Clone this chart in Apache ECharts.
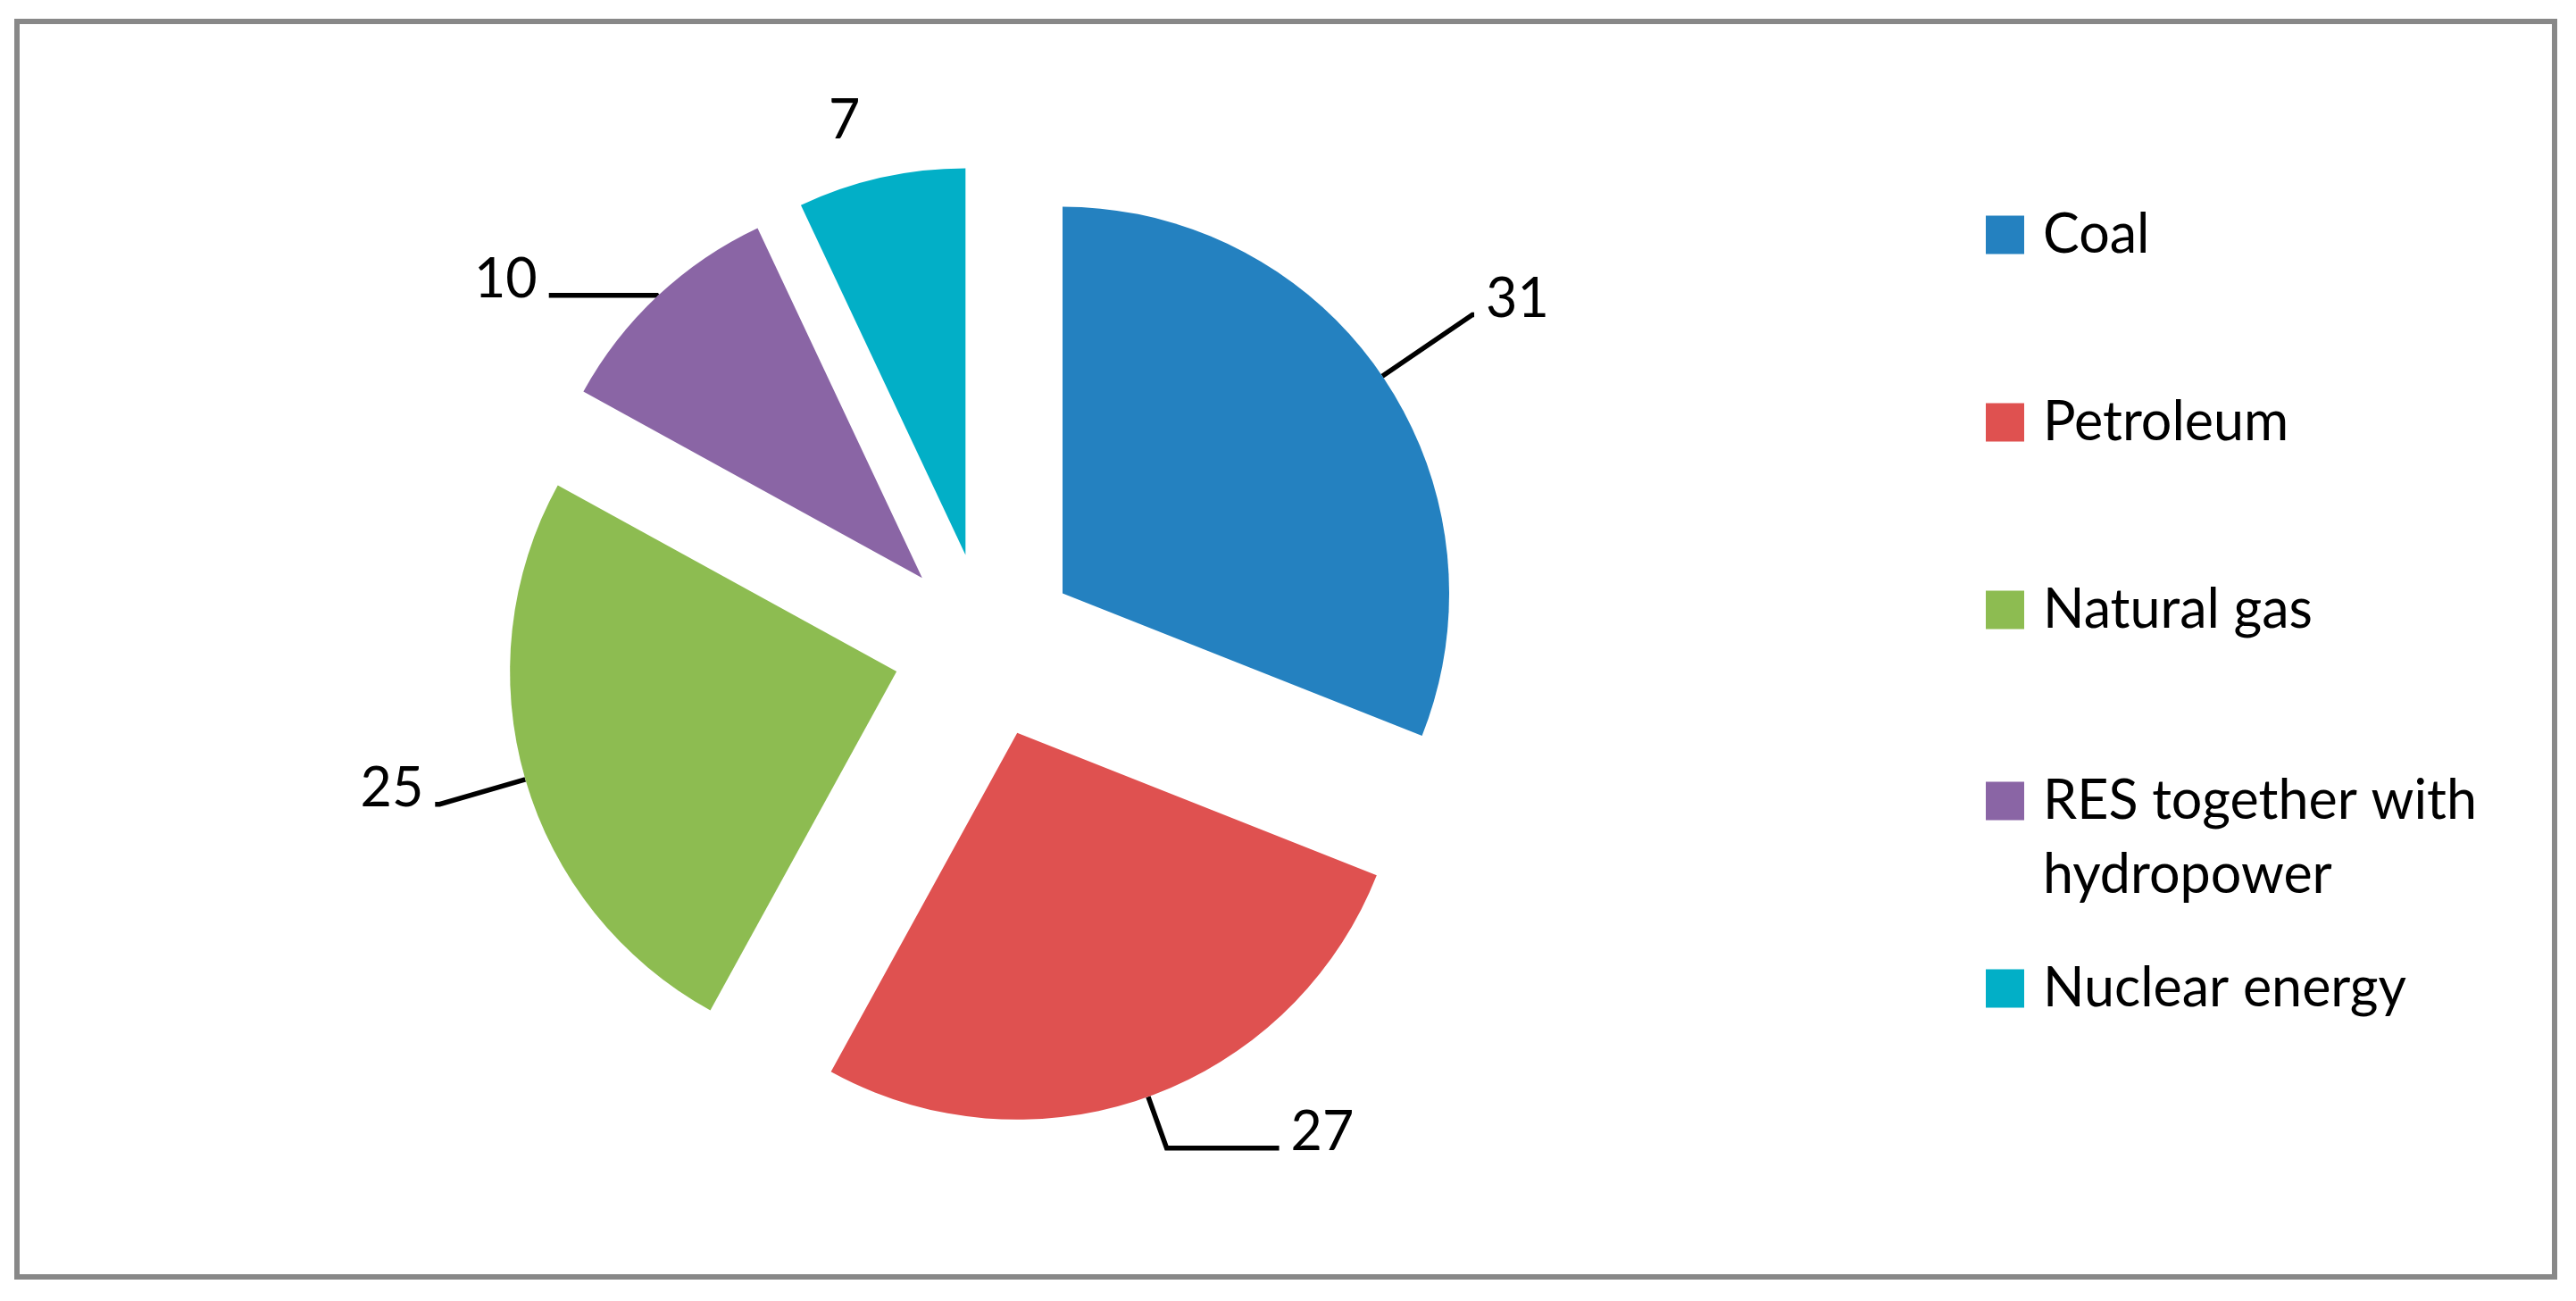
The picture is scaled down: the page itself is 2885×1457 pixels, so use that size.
<!DOCTYPE html>
<html>
<head>
<meta charset="utf-8">
<script src="https://cdn.jsdelivr.net/npm/echarts@6/dist/echarts.min.js"></script>
<style>
  html, body { margin: 0; padding: 0; background: #fff; }
  #chart { width: 2885px; height: 1457px; }
</style>
</head>
<body>
<div id="chart"></div>
<script>
// energy mix, %
const categories = ['Coal', 'Petroleum', 'Natural gas', 'RES together with hydropower', 'Nuclear energy'];
const shares = [31, 27, 25, 10, 7];
const legendLabels = ['Coal', 'Petroleum', 'Natural gas', 'RES together with\nhydropower', 'Nuclear energy'];

const colors = ['#2481C0', '#DF5150', '#8DBC51', '#8A65A5', '#02AFC7'];
const FONT = 'Lato, "Open Sans", sans-serif';

// leader line per slice: [length, length2, visible]
const leaders = [[122, 2, true], [61, 126, true], [100, 5, true], [1, 121, true], [48, 0, false]];
// vertical centre of each legend row (icon)
const legendRows = [263, 473, 683, 897, 1107];

let chart = echarts.init(document.getElementById('chart'));

let legends = categories.map(function (name, i) {
  let twoLines = legendLabels[i].indexOf('\n') >= 0;
  let lh = twoLines ? 83 : 70;
  // a blank first line keeps the first text line level with the icon
  let text = twoLines ? '\n' + legendLabels[i] : legendLabels[i];
  let boxH = twoLines ? lh * 3 : lh;
  return {
    data: [name],
    orient: 'vertical',
    left: 2224,
    top: legendRows[i] - boxH / 2,
    padding: 0,
    selectedMode: false,
    icon: 'rect',
    itemWidth: 43,
    itemHeight: 43,
    formatter: function () { return text; },
    textStyle: {
      fontFamily: FONT,
      fontSize: 61,
      color: '#000',
      lineHeight: lh,
      padding: [0, 0, 0, 16]
    }
  };
});

let option = {
  backgroundColor: '#fff',
  animation: false,
  color: colors,
  legend: legends,
  graphic: [{
    type: 'rect',
    shape: { x: 19, y: 24, width: 2842, height: 1406 },
    style: { fill: 'none', stroke: '#888888', lineWidth: 6 },
    silent: true
  }],
  series: [{
    type: 'pie',
    center: [1104, 723],
    radius: 433,
    startAngle: 90,
    clockwise: true,
    selectedMode: 'multiple',
    selectedOffset: 104,
    avoidLabelOverlap: false,
    emphasis: { disabled: true, scale: false },
    select: { itemStyle: { borderWidth: 0 } },
    label: {
      show: true,
      position: 'outside',
      // trailing empty line lifts the number above the leader line
      formatter: function (p) { return p.value + '\n'; },
      fontFamily: FONT,
      fontSize: 61,
      lineHeight: 34,
      color: '#000',
      distanceToLabelLine: 13
    },
    labelLine: {
      show: true,
      lineStyle: { color: '#000', width: 5.5 }
    },
    data: categories.map(function (name, i) {
      return {
        name: name,
        value: shares[i],
        selected: true,
        labelLine: {
          show: leaders[i][2],
          length: leaders[i][0],
          length2: leaders[i][1],
          lineStyle: { color: '#000', width: 5.5 }
        }
      };
    })
  }]
};

chart.setOption(option);
</script>
</body>
</html>
